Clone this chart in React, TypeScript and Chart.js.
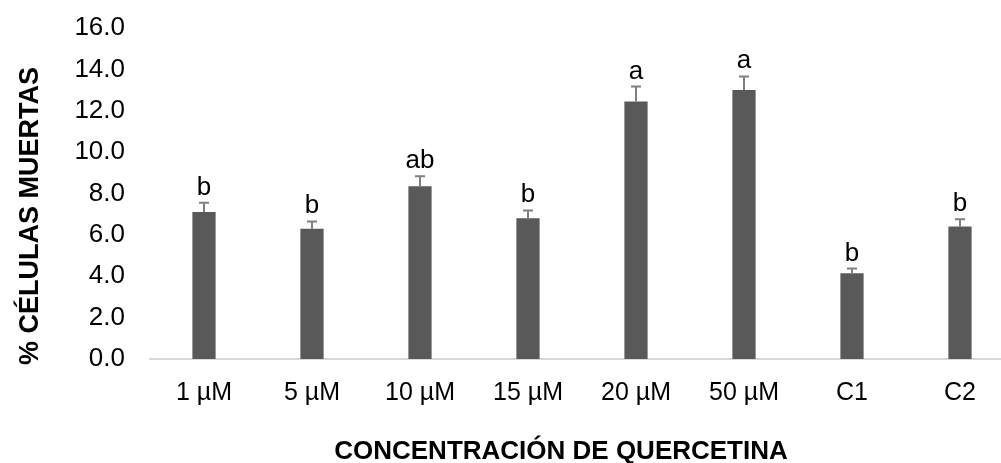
import React, { useEffect, useRef } from "react";
import { Chart, registerables } from "chart.js";

Chart.register(...registerables);

const categories = ["1 µM", "5 µM", "10 µM", "15 µM", "20 µM", "50 µM", "C1", "C2"];
const meanValues = [7.1, 6.3, 8.35, 6.8, 12.45, 13.0, 4.15, 6.4];
const errorValues = [0.45, 0.35, 0.48, 0.38, 0.72, 0.66, 0.22, 0.35];
const letterLabels = ["b", "b", "ab", "b", "a", "a", "b", "b"];
const yTicks = [0, 2, 4, 6, 8, 10, 12, 14, 16];
const yTitle = "% CÉLULAS MUERTAS";
const xTitle = "CONCENTRACIÓN DE QUERCETINA";

const FONT = "'Liberation Sans', Arial, Helvetica, sans-serif";

const overlayPlugin = {
  id: "overlay",
  afterDatasetsDraw(chart: any) {
    const ctx = chart.ctx;
    const x = chart.scales.x;
    const y = chart.scales.y;
    ctx.save();
    meanValues.forEach((v, i) => {
      const cx = x.getPixelForValue(i);
      const yTop = y.getPixelForValue(v);
      const yErr = y.getPixelForValue(v + errorValues[i]);
      ctx.strokeStyle = "#7f7f7f";
      ctx.lineWidth = 2;
      ctx.beginPath();
      ctx.moveTo(cx, yTop);
      ctx.lineTo(cx, yErr);
      ctx.moveTo(cx - 5, yErr);
      ctx.lineTo(cx + 5, yErr);
      ctx.stroke();
      ctx.fillStyle = "#000000";
      ctx.font = `26px ${FONT}`;
      ctx.textAlign = "center";
      ctx.textBaseline = "alphabetic";
      ctx.fillText(letterLabels[i], cx, yErr - 8);
    });
    // axis titles
    ctx.fillStyle = "#000000";
    ctx.font = `bold 26px ${FONT}`;
    ctx.textAlign = "center";
    ctx.textBaseline = "alphabetic";
    ctx.fillText(xTitle, 561, 459);
    ctx.save();
    ctx.translate(38, 216);
    ctx.rotate(-Math.PI / 2);
    ctx.font = `bold 27px ${FONT}`;
    ctx.fillText(yTitle, 0, 0);
    ctx.restore();
    ctx.restore();
  },
};

export default function App() {
  const canvasRef = useRef<HTMLCanvasElement | null>(null);

  useEffect(() => {
    document.body.style.margin = "0";
    const canvas = canvasRef.current;
    if (!canvas) return;
    const chart = new Chart(canvas, {
      type: "bar",
      data: {
        labels: categories,
        datasets: [
          {
            data: meanValues,
            backgroundColor: "#595959",
            borderWidth: 0,
            categoryPercentage: 1,
            barPercentage: 0.215,
          },
        ],
      },
      options: {
        responsive: false,
        animation: false,
        devicePixelRatio: 1,
        layout: { padding: { top: 28, right: 0, left: 0, bottom: 0 } },
        plugins: {
          legend: { display: false },
          tooltip: { enabled: false },
        },
        scales: {
          x: {
            grid: { display: false, drawTicks: false },
            border: { display: true, color: "#d9d9d9", width: 2 },
            ticks: {
              color: "#000000",
              font: { family: FONT, size: 25 },
              padding: 19,
              maxRotation: 0,
              autoSkip: false,
            },
            afterFit: (scale: any) => {
              scale.height = 104;
              scale.paddingLeft = 0;
              scale.paddingRight = 0;
            },
          },
          y: {
            min: 0,
            max: 16,
            afterBuildTicks: (scale: any) => {
              scale.ticks = yTicks.map((v) => ({ value: v }));
            },
            grid: { display: false, drawTicks: false },
            border: { display: false },
            ticks: {
              color: "#000000",
              font: { family: FONT, size: 26 },
              padding: 25,
              callback: (v: any) => Number(v).toFixed(1),
            },
            afterFit: (scale: any) => {
              scale.width = 150;
              scale.paddingTop = 0;
              scale.paddingBottom = 0;
            },
          },
        },
      },
      plugins: [overlayPlugin],
    });
    return () => chart.destroy();
  }, []);

  return (
    <div style={{ width: 1001, height: 463, overflow: "hidden", background: "#ffffff" }}>
      <canvas ref={canvasRef} width={1014} height={463} style={{ display: "block" }} />
    </div>
  );
}
